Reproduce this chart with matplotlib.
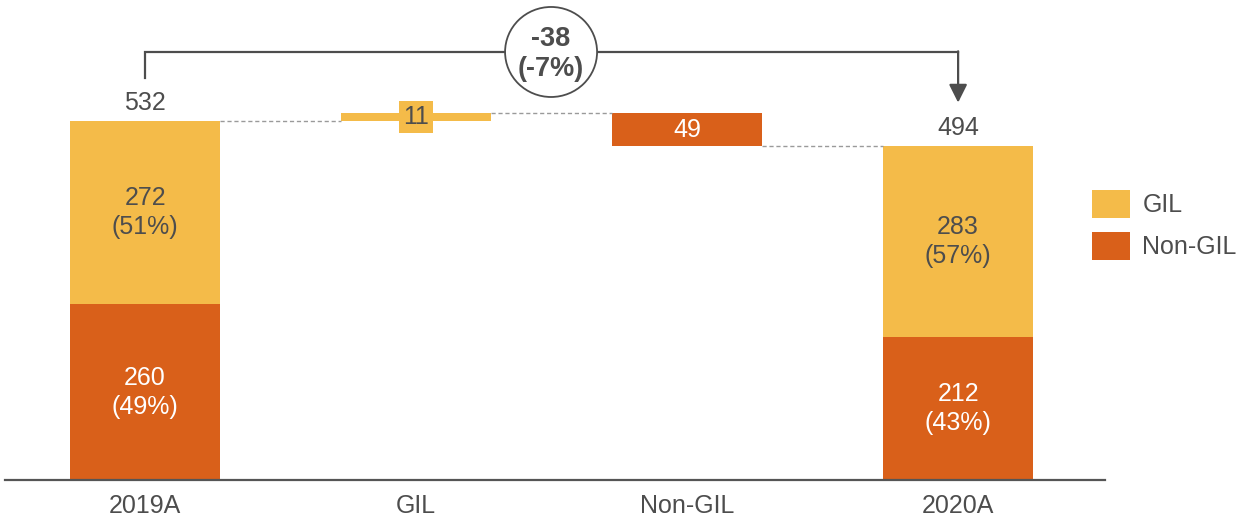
import matplotlib.pyplot as plt
from matplotlib.patches import Ellipse, Patch

plt.rcParams['font.family'] = ['Liberation Sans', 'DejaVu Sans']

# waterfall values
steps = ['2019A', 'GIL', 'Non-GIL', '2020A']
gil_2019 = 272
non_gil_2019 = 260
total_2019 = 532
gil_change = 11
non_gil_change = -49
gil_2020 = 283
non_gil_2020 = 212
total_2020 = 494
share_2019 = ['(51%)', '(49%)']
share_2020 = ['(57%)', '(43%)']
total_change = '-38\n(-7%)'

c_gil = '#F4BB49'
c_non = '#D9601A'
c_txt = '#4D4D4D'
fs = 18

fig = plt.figure(figsize=(12.4, 5.2), dpi=100)
ax = fig.add_axes([5/1240, 40/520, 1100/1240, 480/520])
ax.set_xlim(-0.517, 3.542)
ax.set_ylim(0, 711)
w = 0.553
x = range(len(steps))

# start and end columns, stacked
ax.bar(0, non_gil_2019, w, color=c_non)
ax.bar(0, gil_2019, w, bottom=non_gil_2019, color=c_gil)
ax.bar(3, non_gil_2020, w, color=c_non)
ax.bar(3, gil_2020, w, bottom=non_gil_2020, color=c_gil)

# floating change bars
peak = total_2019 + gil_change
ax.bar(1, gil_change, w, bottom=total_2019, color=c_gil)
ax.bar(2, non_gil_change, w, bottom=peak, color=c_non)

# dashed connectors
dash = dict(color='#9A9A9A', lw=1, ls=(0, (3, 2)))
ax.plot([w/2, 1 - w/2], [total_2019, total_2019], **dash)
ax.plot([1 + w/2, 2 - w/2], [peak, peak], **dash)
ax.plot([2 + w/2, 3 - w/2], [total_2020, total_2020], **dash)

# segment labels
ax.text(0, non_gil_2019 + gil_2019/2, f'{gil_2019}\n{share_2019[0]}', ha='center', va='center',
        fontsize=fs, color=c_txt, linespacing=1.25)
ax.text(0, non_gil_2019/2, f'{non_gil_2019}\n{share_2019[1]}', ha='center', va='center',
        fontsize=fs, color='white', linespacing=1.25)
ax.text(3, non_gil_2020 + gil_2020/2, f'{gil_2020}\n{share_2020[0]}', ha='center', va='center',
        fontsize=fs, color=c_txt, linespacing=1.25)
ax.text(3, non_gil_2020/2, f'{non_gil_2020}\n{share_2020[1]}', ha='center', va='center',
        fontsize=fs, color='white', linespacing=1.25)
ax.text(1, total_2019 + gil_change/2, str(gil_change), ha='center', va='center', fontsize=fs,
        color=c_txt, bbox=dict(boxstyle='square,pad=0.15', fc=c_gil, ec='none'))
ax.text(2, peak + non_gil_change/2, str(-non_gil_change), ha='center', va='center',
        fontsize=fs, color='white')

# totals above columns
ax.annotate(str(total_2019), (0, total_2019), xytext=(0, 8), textcoords='offset points',
            ha='center', va='baseline', fontsize=fs, color=c_txt)
ax.annotate(str(total_2020), (3, total_2020), xytext=(0, 8), textcoords='offset points',
            ha='center', va='baseline', fontsize=fs, color=c_txt)

# bracket with change bubble
yb = 634
ax.plot([0, 0, 3], [596, yb, yb], color=c_txt, lw=1.6, solid_joinstyle='miter')
ax.annotate('', xy=(3, 559), xytext=(3, yb + 1),
            arrowprops=dict(arrowstyle='-|>,head_length=1.1,head_width=0.55',
                            mutation_scale=10, color=c_txt, lw=1.6,
                            shrinkA=0, shrinkB=0))
ax.add_patch(Ellipse((1.498, yb), 92/271, 90/0.675, fc='white', ec=c_txt, lw=1.3, zorder=3))
ax.text(1.498, yb - 3, total_change, ha='center', va='center', fontsize=19.5,
        fontweight='bold', color=c_txt, zorder=4, linespacing=1.2)

ax.set_xticks(list(x))
ax.set_xticklabels(steps, fontsize=fs, color=c_txt)
ax.tick_params(axis='x', length=0, pad=10)
ax.set_yticks([])
for s in ['top', 'left', 'right']:
    ax.spines[s].set_visible(False)
ax.spines['bottom'].set_color('#555555')
ax.spines['bottom'].set_linewidth(1.6)

handles = [Patch(fc=c_gil, ec='none', label='GIL'), Patch(fc=c_non, ec='none', label='Non-GIL')]
fig.legend(handles=handles, loc='upper left', bbox_to_anchor=(1092/1240, 1 - 190/520),
           frameon=False, fontsize=fs, handlelength=1.52, handleheight=1.35,
           handletextpad=0.5, labelspacing=0.55, borderpad=0, borderaxespad=0,
           labelcolor=c_txt)

fig.savefig('out.png', dpi=100)
